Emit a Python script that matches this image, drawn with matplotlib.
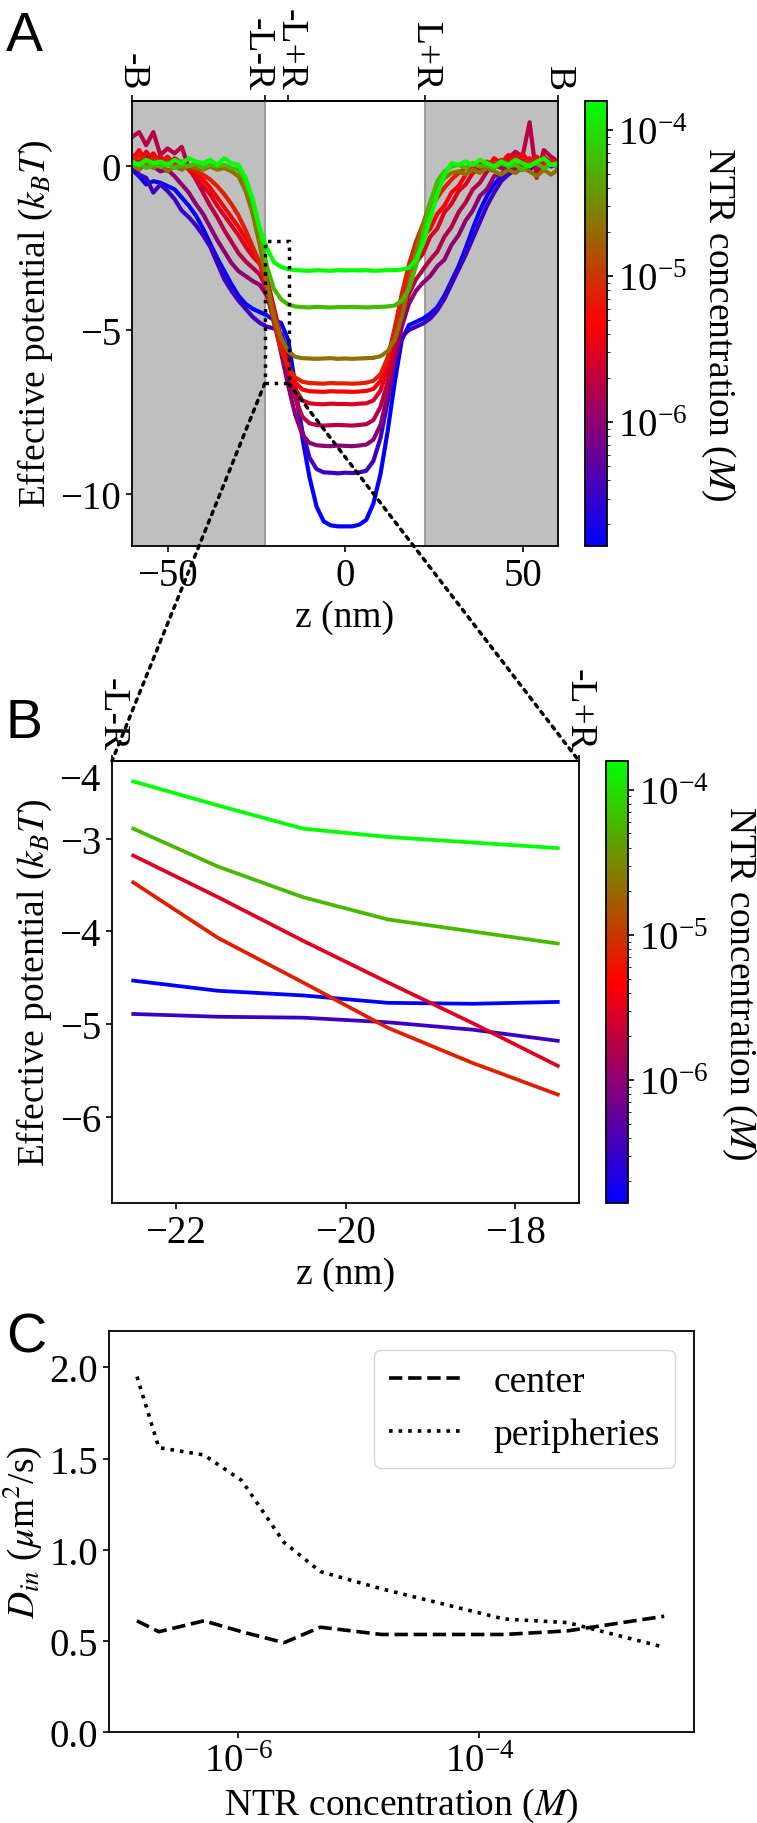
import numpy as np
import matplotlib
matplotlib.use('Agg')
import matplotlib.pyplot as plt
from matplotlib.colors import LogNorm
from matplotlib.cm import ScalarMappable
from matplotlib.patches import Rectangle, ConnectionPatch
from matplotlib.ticker import FixedLocator, NullLocator

plt.rcParams['font.family'] = 'Liberation Serif'
plt.rcParams['mathtext.fontset'] = 'stix'
plt.rcParams['font.size'] = 27
plt.rcParams['xtick.labelsize'] = 28
plt.rcParams['ytick.labelsize'] = 28
plt.rcParams['axes.linewidth'] = 1.3
plt.rcParams['xtick.major.size'] = 4.5
plt.rcParams['ytick.major.size'] = 4.5
plt.rcParams['xtick.major.width'] = 1.2
plt.rcParams['ytick.major.width'] = 1.2

# ---- panel A data: effective potential profiles (kT) on z grid (nm)
z_a = list(range(-60, 62, 2))
conc_a = [1.45e-7, 3.3e-7, 1.0e-6, 1.8e-6, 2.9e-6, 4.4e-6, 7.2e-6, 2.2e-5, 5.9e-5, 1.58e-4]

pot_0 = [-0.10, -0.30, -0.55, -0.45, -0.50, -0.60, -0.70, -0.95, -1.20, -1.50,
         -1.90, -2.35, -2.80, -3.20, -3.60, -3.95, -4.20, -4.35, -4.45, -4.55,
         -4.70, -4.78, -5.30, -6.70, -8.30, -9.50, -10.40, -10.85, -10.97, -11.00,
         -11.00,
         -11.00, -10.95, -10.80, -10.30, -9.40, -8.10, -6.60, -5.30, -4.85, -4.75,
         -4.65, -4.50, -4.30, -3.95, -3.50, -3.05, -2.50, -1.90, -1.35, -0.90,
         -0.55, -0.30, -0.15, -0.05, -0.10, 0.05, -0.05, 0.10, 0.00, 0.05]
pot_1 = [0.05, -0.25, -0.35, -0.80, -0.55, -0.75, -1.00, -1.35, -1.55, -1.80,
         -2.10, -2.45, -2.95, -3.45, -3.80, -4.10, -4.35, -4.60, -4.78, -4.90,
         -4.95, -5.10, -5.70, -6.90, -8.10, -8.90, -9.25, -9.35, -9.36, -9.38,
         -9.36,
         -9.37, -9.35, -9.30, -9.00, -8.30, -7.20, -6.00, -5.20, -5.00, -4.90,
         -4.80, -4.65, -4.40, -4.05, -3.60, -3.15, -2.70, -2.20, -1.70, -1.20,
         -0.80, -0.45, -0.25, -0.10, 0.05, -0.10, 0.10, 0.00, 0.15, 0.00]
pot_2 = [0.30, 0.10, 0.35, 0.00, -0.15, -0.10, -0.30, -0.55, -0.80, -1.15,
         -1.45, -1.85, -2.25, -2.60, -2.95, -3.20, -3.35, -3.50, -3.62, -3.95,
         -4.70, -5.70, -6.70, -7.60, -8.20, -8.45, -8.52, -8.54, -8.55, -8.53,
         -8.54,
         -8.55, -8.53, -8.50, -8.35, -7.90, -7.00, -5.90, -4.90, -4.20, -3.80,
         -3.55, -3.35, -3.05, -2.85, -2.40, -2.10, -1.65, -1.35, -0.90, -0.70,
         -0.30, -0.25, 0.05, -0.10, 0.10, 0.00, 0.20, 0.05, 0.15, -0.05]
pot_3 = [0.90, 1.05, 0.65, 1.05, 0.35, 0.55, 0.40, 0.60, -0.05, -0.40,
         -0.80, -1.20, -1.55, -1.95, -2.30, -2.65, -2.90, -3.10, -3.30, -3.75,
         -4.50, -5.40, -6.30, -7.10, -7.65, -7.85, -7.90, -7.92, -7.91, -7.90,
         -7.91,
         -7.92, -7.90, -7.88, -7.75, -7.35, -6.60, -5.60, -4.60, -3.90, -3.45,
         -3.15, -2.85, -2.60, -2.15, -1.85, -1.40, -1.10, -0.70, -0.50, -0.15,
         0.05, -0.05, 0.25, 0.45, 0.30, 1.35, -0.35, 0.50, 0.30, 0.15]
pot_4 = [0.35, 0.10, 0.45, 0.20, 0.30, 0.05, 0.25, 0.10, -0.10, -0.35,
         -0.60, -0.85, -1.20, -1.50, -1.80, -2.10, -2.45, -2.75, -2.98, -3.40,
         -4.32, -5.22, -6.10, -6.80, -7.15, -7.24, -7.26, -7.27, -7.25, -7.26,
         -7.26,
         -7.27, -7.25, -7.24, -7.15, -6.85, -6.20, -5.20, -4.20, -3.50, -2.95,
         -2.65, -2.15, -1.90, -1.40, -1.15, -0.75, -0.55, -0.20, -0.05, 0.10,
         0.00, 0.20, 0.10, 0.30, 0.15, 0.25, 0.05, 0.30, 0.10, 0.05]
pot_5 = [0.20, 0.50, 0.15, 0.40, 0.10, 0.30, 0.05, 0.15, -0.05, -0.20,
         -0.40, -0.65, -0.95, -1.25, -1.55, -1.85, -2.20, -2.55, -2.95, -3.55,
         -4.45, -5.35, -6.10, -6.60, -6.82, -6.87, -6.88, -6.89, -6.87, -6.88,
         -6.88,
         -6.89, -6.88, -6.86, -6.80, -6.55, -5.95, -5.00, -4.00, -3.20, -2.65,
         -2.15, -1.90, -1.45, -1.20, -0.80, -0.60, -0.25, -0.05, 0.10, -0.05,
         0.25, 0.10, 0.35, 0.15, 0.40, 0.10, 0.30, 0.05, 0.20, 0.10]
pot_6 = [0.15, 0.35, 0.05, 0.25, 0.10, 0.20, 0.00, 0.10, -0.05, -0.15,
         -0.25, -0.40, -0.60, -0.85, -1.15, -1.50, -1.95, -2.45, -2.95, -3.77,
         -4.80, -5.60, -6.15, -6.45, -6.58, -6.62, -6.63, -6.64, -6.62, -6.63,
         -6.63,
         -6.64, -6.63, -6.61, -6.55, -6.35, -5.85, -4.95, -3.90, -3.00, -2.30,
         -1.75, -1.30, -0.95, -0.65, -0.40, -0.20, -0.05, 0.10, 0.00, 0.15,
         0.05, 0.20, 0.10, 0.25, 0.05, 0.20, 0.10, 0.25, 0.05, 0.10]
pot_7 = [0.05, -0.10, 0.10, -0.05, 0.05, -0.15, 0.00, -0.10, 0.05, -0.05,
         -0.10, 0.00, -0.10, -0.05, -0.15, -0.30, -0.75, -1.45, -2.40, -3.55,
         -4.60, -5.25, -5.65, -5.82, -5.86, -5.87, -5.88, -5.87, -5.86, -5.88,
         -5.87,
         -5.88, -5.87, -5.86, -5.85, -5.80, -5.65, -5.30, -4.60, -3.60, -2.60,
         -1.75, -1.10, -0.65, -0.35, -0.20, -0.15, -0.25, -0.10, -0.20, -0.05,
         -0.15, -0.25, -0.10, -0.20, -0.05, -0.15, -0.30, -0.10, -0.25, -0.10]
pot_8 = [0.00, 0.10, -0.05, 0.05, 0.00, 0.10, -0.05, 0.05, 0.00, 0.10,
         -0.05, 0.05, 0.00, 0.05, -0.05, -0.10, -0.45, -1.10, -2.00, -3.05,
         -3.75, -4.06, -4.22, -4.28, -4.30, -4.31, -4.29, -4.30, -4.31, -4.30,
         -4.30,
         -4.29, -4.30, -4.31, -4.30, -4.29, -4.28, -4.25, -4.10, -3.75, -3.05,
         -2.05, -1.10, -0.45, -0.15, 0.00, 0.05, -0.05, 0.10, 0.00, 0.05,
         -0.05, 0.10, 0.00, 0.05, -0.10, 0.05, 0.10, -0.05, 0.05, 0.00]
pot_9 = [0.15, 0.05, 0.20, 0.10, 0.15, 0.05, 0.20, 0.10, 0.25, 0.15,
         0.10, 0.20, 0.05, 0.25, 0.10, 0.05, -0.35, -1.00, -1.90, -2.50,
         -2.93, -3.07, -3.14, -3.17, -3.18, -3.19, -3.17, -3.18, -3.19, -3.17,
         -3.18,
         -3.17, -3.18, -3.17, -3.19, -3.18, -3.17, -3.17, -3.15, -3.10, -2.85,
         -2.35, -1.60, -0.85, -0.25, 0.10, 0.05, 0.15, 0.05, 0.20, 0.10,
         0.00, 0.15, 0.05, 0.20, 0.10, 0.00, 0.15, 0.25, 0.05, 0.10]
pots_a = [pot_0, pot_1, pot_2, pot_3, pot_4, pot_5, pot_6, pot_7, pot_8, pot_9]

top_ticks_a = [-60, -22.5, -16, 22.5, 60]
top_labels_a = ['-B', '-L-R', '-L+R', 'L+R', 'B']
top_shift_a = [0, -6, 1, 0, 0]   # points, keeps the two close labels apart

# ---- panel B data: zoom near the pore edge
z_b = [-22.5, -21.5, -20.5, -19.5, -18.5, -17.5]
conc_b = [1.45e-7, 3.3e-7, 2.9e-6, 7.2e-6, 5.9e-5, 1.58e-4]
pot_b = [[-4.53, -4.64, -4.69, -4.77, -4.78, -4.76],
         [-4.89, -4.92, -4.93, -4.98, -5.06, -5.18],
         [-3.18, -3.63, -4.10, -4.55, -4.99, -5.45],
         [-3.47, -4.07, -4.55, -5.04, -5.42, -5.76],
         [-2.89, -3.30, -3.63, -3.87, -4.00, -4.13],
         [-2.38, -2.64, -2.89, -2.98, -3.04, -3.10]]

# ---- panel C data: diffusion coefficients
conc_c = [1.45e-7, 2.2e-7, 5.2e-7, 1.07e-6, 2.4e-6, 4.8e-6, 1.55e-5, 1.6e-4, 5.4e-4, 3.4e-3]
d_center = [0.61, 0.55, 0.61, 0.55, 0.49, 0.575, 0.535, 0.535, 0.555, 0.635]
d_periph = [1.95, 1.56, 1.52, 1.38, 1.04, 0.88, 0.785, 0.62, 0.60, 0.465]

cmap = plt.get_cmap('brg')
norm = LogNorm(vmin=1.42e-7, vmax=1.58e-4)

W, H = 757, 1824
def box(l, t, r, b):
    return [l / W, 1 - b / H, (r - l) / W, (b - t) / H]

fig = plt.figure(figsize=(W / 100, H / 100), dpi=100)
axA = fig.add_axes(box(132, 102, 558, 547))
caxA = fig.add_axes(box(585, 102, 607, 547))
axB = fig.add_axes(box(112, 762, 579, 1204))
caxB = fig.add_axes(box(606, 762, 628, 1204))
axC = fig.add_axes(box(109, 1332, 694, 1733))

# panel A
axA.axvspan(-60, -22.5, color='0.75', lw=0, zorder=0)
axA.axvspan(22.5, 60, color='0.75', lw=0, zorder=0)
axA.axvline(-22.5, color='0.62', lw=1.5, zorder=0.5)
axA.axvline(22.5, color='0.62', lw=1.5, zorder=0.5)
for c, p in zip(conc_a, pots_a):
    axA.plot(z_a, p, color=cmap(norm(c)), lw=3.0)
axA.set_xlim(-60, 60)
axA.set_ylim(-11.6, 2.0)
axA.set_xticks([-50, 0, 50])
axA.set_yticks([-10, -5, 0])
axA.set_xlabel('z (nm)')
axA.set_ylabel('Effective potential ($k_BT$)')
secA = axA.secondary_xaxis('top')
secA.set_ticks(top_ticks_a, labels=[''] * len(top_ticks_a))
for x, lab, dx in zip(top_ticks_a, top_labels_a, top_shift_a):
    axA.annotate(lab, xy=(x, 1), xycoords=('data', 'axes fraction'),
                 xytext=(dx, 8), textcoords='offset points',
                 rotation=-90, ha='center', va='bottom', annotation_clip=False)

rect_x0, rect_x1, rect_y0, rect_y1 = -22.6, -15.9, -6.63, -2.28
axA.add_patch(Rectangle((rect_x0, rect_y0), rect_x1 - rect_x0, rect_y1 - rect_y0,
                        fill=False, ls=':', lw=2.5, color='k', zorder=5))

sm = ScalarMappable(norm=norm, cmap=cmap)
cbA = fig.colorbar(sm, cax=caxA)
cbA.set_label('NTR concentration ($M$)', rotation=270, va='bottom', labelpad=8)

# panel B
for c, p in zip(conc_b, pot_b):
    axB.plot(z_b, p, color=cmap(norm(c)), lw=2.7)
axB.set_xlim(-22.75, -17.25)
axB.set_ylim(-6.93, -2.16)
axB.set_xticks([-22, -20, -18])
axB.set_yticks([-3, -4, -5, -6])
axB.set_xlabel('z (nm)')
axB.set_ylabel('Effective potential ($k_BT$)')
axB.annotate('\u22124', xy=(0, -2.32), xycoords=('axes fraction', 'data'),
             xytext=(-8, 0), textcoords='offset points', ha='right',
             va='center_baseline', fontsize=28)
secB = axB.secondary_xaxis('top')
secB.set_ticks([-22.75, -17.25], labels=['-L-R', '-L+R'], rotation=-90, fontsize=27)
cbB = fig.colorbar(sm, cax=caxB)
cbB.set_label('NTR concentration ($M$)', rotation=270, va='bottom', labelpad=8)

for xa, xb in [(rect_x0, 0), (rect_x1, 1)]:
    con = ConnectionPatch(xyA=(xa, rect_y0), coordsA=axA.transData,
                          xyB=(xb, 1), coordsB=axB.transAxes,
                          ls=':', lw=2.5, color='k', zorder=10)
    fig.add_artist(con)

# panel C
axC.plot(conc_c, d_center, color='k', ls='--', lw=2.6, label='center')
axC.plot(conc_c, d_periph, color='k', ls=':', lw=2.6, label='peripheries')
axC.set_xscale('log')
axC.set_xlim(8.5e-8, 6.0e-3)
axC.set_ylim(0, 2.2)
axC.xaxis.set_major_locator(FixedLocator([1e-6, 1e-4]))
axC.xaxis.set_minor_locator(NullLocator())
axC.set_yticks([0, 0.5, 1.0, 1.5, 2.0])
axC.set_xlabel('NTR concentration ($M$)')
axC.set_ylabel('$D_{in}$ ($\\mu$m$^2$/s)')
axC.legend(loc='upper right')

for lab, yb in [('A', 51), ('B', 738), ('C', 1353)]:
    fig.text(6 / W, 1 - yb / H, lab, fontsize=40, family='Liberation Sans', va='baseline')

fig.savefig('out.png', dpi=100)
